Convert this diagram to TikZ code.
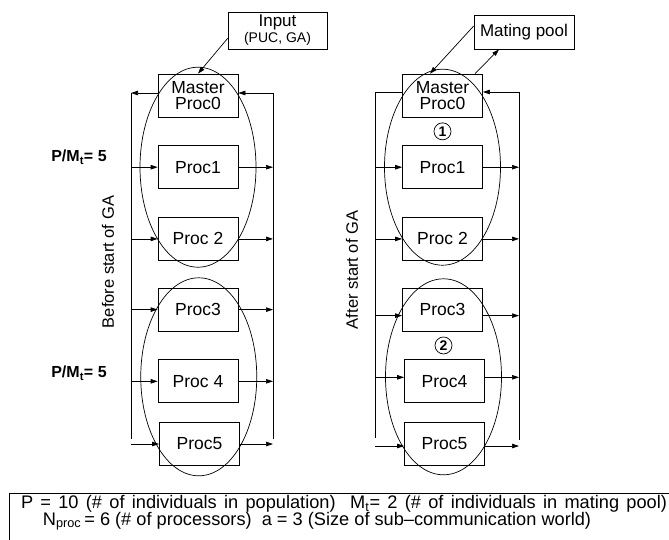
\documentclass[tikz,border=0pt]{standalone}
\usepackage{fontspec}
\setmainfont{Liberation Sans}
\usetikzlibrary{positioning, arrows.meta, calc}

\begin{document}
\begin{tikzpicture}[
  x=1pt, y=-1pt,
  line width=0.7pt,
  node distance=28pt,
  proc/.style={rectangle, draw, minimum width=80pt, minimum height=43pt, align=center,
    inner sep=1pt, font=\fontsize{17.5}{16.5}\selectfont},
  memo/.style={rectangle, draw, align=center, inner sep=1pt, font=\fontsize{17}{16}\selectfont},
  ratio/.style={font=\fontsize{16}{16}\selectfont\bfseries},
  phase/.style={rotate=90, font=\fontsize{16.5}{16.5}\selectfont},
  grp/.style={circle, draw, inner sep=0pt, minimum size=17pt, font=\fontsize{14}{14}\selectfont\bfseries},
  note/.style={anchor=base, inner sep=0pt, font=\fontsize{18.2}{18}\selectfont},
  arr/.style={-{Triangle[length=7pt, width=4.5pt]}}
]
\useasboundingbox (0,0) rectangle (669,539);
\clip (0,0) rectangle (669,539);

% before start of GA
\node[memo, minimum width=99pt, minimum height=37pt] (inp) at (277.5,30.5)
  {Input\\{\fontsize{14}{14}\selectfont (PUC, GA)}};
\node[proc] (m0) at (198,95.5) {Master\\Proc0};
\node[proc, below=of m0] (p1) {Proc1};
\node[proc, below=of p1] (p2) {Proc 2};
\node[proc, below=27pt of p2] (p3) {Proc3};
\node[proc, below=of p3] (p4) {Proc 4};
\node[proc, below=19pt of p4, xshift=1.5pt] (p5) {Proc5};

\coordinate (lr) at (131,93);
\coordinate (lrb) at (131,439);
\coordinate (rr) at (273,93);
\coordinate (rrb) at (273,439);
\draw (lr) -- (lrb);
\draw (rr) -- (rrb);
\draw[arr] (lr -| m0.west) -- (lr);
\draw[arr] (rr) -- (rr -| m0.east);
\foreach \p in {p1,p2,p3,p4,p5} {
  \draw[arr] (\p.west -| lr) -- (\p.west);
  \draw[arr] (\p.east) -- (\p.east -| rr);
}
\draw[arr] ([yshift=11pt]inp.south west) -- (m0.north);

\draw ($(m0.north)!0.5!(p2.south)$) ellipse [x radius=58pt, y radius=100pt];
\draw ($(p3.north)!0.5!(p5.south)$) ellipse [x radius=58pt, y radius=99pt];

\node[ratio] (r1) at (79,157) {P/M\textsubscript{t}= 5};
\node[ratio] (r2) at (79,373) {P/M\textsubscript{t}= 5};
\node[phase] (bef) at (108,262) {Before start of GA};

% after start of GA
\node[memo, minimum width=100pt, minimum height=34pt] (pool) at (524,32) {Mating pool};
\node[proc] (n0) at (442.5,95.5) {Master\\Proc0};
\node[proc, below=of n0] (q1) {Proc1};
\node[proc, below=of q1] (q2) {Proc 2};
\node[proc, below=27pt of q2] (q3) {Proc3};
\node[proc, below=of q3, xshift=2pt] (q4) {Proc4};
\node[proc, below=19pt of q4] (q5) {Proc5};
\node[grp] (g1) at ($(n0.south)!0.5!(q1.north)$) {1};
\node[grp] (g2) at ($(q3.south)!0.5!(q4.north)$) {2};

\coordinate (ls) at (375,92);
\coordinate (lsb) at (375,438);
\coordinate (rs) at (519,92);
\coordinate (rsb) at (519,440);
\draw (ls) -- (lsb);
\draw (rs) -- (rsb);
\draw (ls -| n0.west) -- (ls);
\draw[arr] (rs) -- (rs -| n0.east);
\foreach \q/\dy in {q1/0,q2/0,q3/-6,q4/4,q5/-2} {
  \draw[arr] ([yshift=\dy pt]\q.west -| ls) -- ([yshift=\dy pt]\q.west);
  \draw[arr] ([yshift=\dy pt]\q.east) -- ([yshift=\dy pt]\q.east -| rs);
}
\draw[arr] ([yshift=6pt]pool.west) -- ([xshift=-12.5pt]n0.north);
\draw[arr] ([xshift=32.5pt]n0.north) -- ([xshift=-25pt]pool.south);

\draw ($(n0.north)!0.5!(q2.south)$) ellipse [x radius=58pt, y radius=98pt];
\draw ($(q3.north)!0.5!(q5.south)$) ellipse [x radius=58pt, y radius=98pt];

\node[phase] (aft) at (352,270) {After start of GA};

% legend
\node[draw, anchor=north west, minimum width=700pt, minimum height=80pt] (legend) at (9,493) {};
\node[note] (leg1) at (344,508.5)
  {\makebox[646pt][s]{P = 10 (\# of individuals in population)\ \ M\textsubscript{t}= 2 (\# of individuals in mating pool)}};
\node[note] (leg2) at (317,525)
  {N\textsubscript{proc}\,= 6 (\# of processors)\ \ a = 3 (Size of sub--communication world)};
\end{tikzpicture}
\end{document}
